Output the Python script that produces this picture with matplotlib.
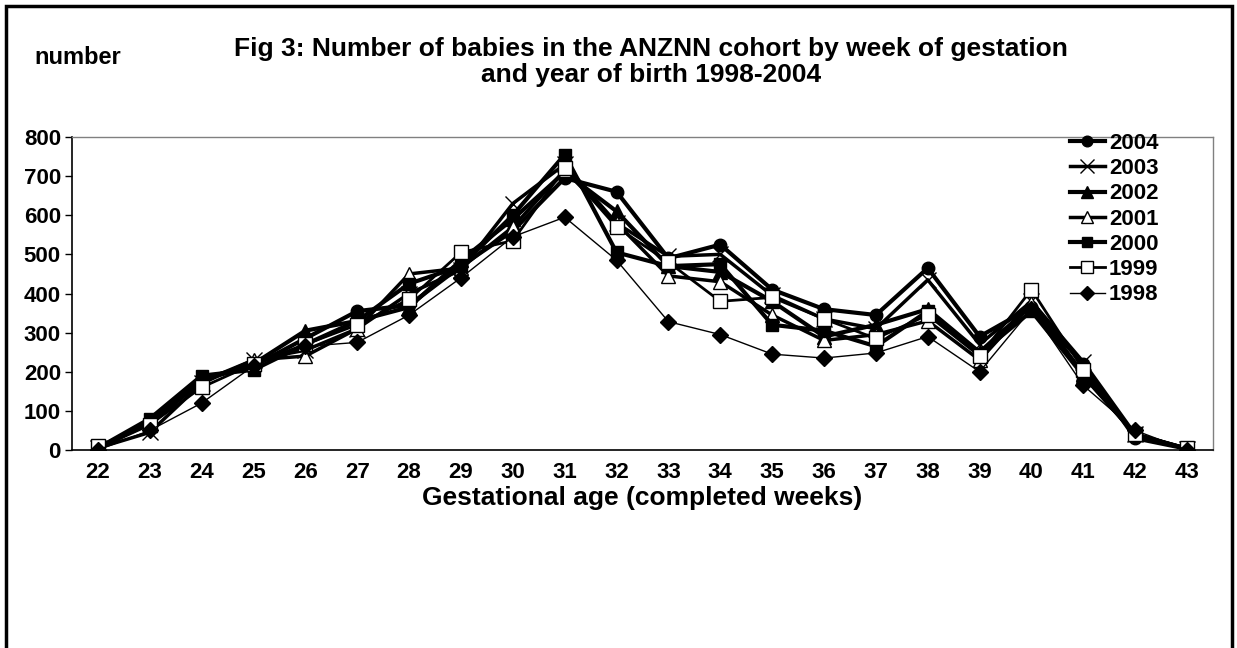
import numpy as np
import matplotlib
matplotlib.use('Agg')
import matplotlib.pyplot as plt

plt.rcParams['font.family'] = ['Liberation Sans', 'DejaVu Sans']
plt.rcParams['font.weight'] = 'bold'

# weeks of gestation
weeks = ['22', '23', '24', '25', '26', '27', '28', '29', '30', '31', '32',
         '33', '34', '35', '36', '37', '38', '39', '40', '41', '42', '43']

# number of babies per year of birth
y2004 = [5, 70, 180, 215, 285, 355, 370, 470, 560, 695, 660, 490, 525, 410, 360, 345, 465, 290, 365, 220, 30, 3]
y2003 = [5, 45, 170, 230, 255, 310, 400, 460, 630, 730, 580, 495, 500, 395, 335, 310, 435, 270, 380, 225, 40, 3]
y2002 = [5, 70, 180, 220, 305, 330, 365, 485, 590, 710, 610, 470, 455, 380, 290, 320, 360, 250, 370, 195, 40, 3]
y2001 = [5, 65, 175, 230, 240, 310, 450, 465, 570, 715, 580, 445, 430, 345, 280, 295, 330, 230, 375, 190, 40, 3]
y2000 = [5, 80, 190, 205, 270, 330, 425, 470, 600, 755, 505, 470, 475, 320, 305, 265, 355, 245, 355, 190, 40, 3]
y1999 = [10, 65, 160, 220, 270, 320, 385, 505, 535, 720, 570, 480, 380, 390, 335, 285, 345, 240, 410, 205, 40, 5]
y1998 = [0, 50, 120, 215, 265, 275, 345, 440, 545, 595, 485, 328, 295, 245, 235, 248, 290, 200, 360, 165, 50, 0]

series = [
    ('2004', y2004, dict(marker='o', ms=9, mfc='black', lw=3.0)),
    ('2003', y2003, dict(marker='x', ms=12, mew=1.0, lw=2.5)),
    ('2002', y2002, dict(marker='^', ms=10, mfc='black', lw=3.0)),
    ('2001', y2001, dict(marker='^', ms=10, mfc='white', mew=1.0, lw=2.5)),
    ('2000', y2000, dict(marker='s', ms=8, mfc='black', lw=3.0)),
    ('1999', y1999, dict(marker='s', ms=10, mfc='white', mew=1.0, lw=2.0)),
    ('1998', y1998, dict(marker='D', ms=8, mfc='black', lw=1.0)),
]

fig = plt.figure(figsize=(12.37, 6.48), dpi=100)
ax = fig.add_axes([72/1237, 1-450/648, (1213-72)/1237, (450-137)/648])

x = np.arange(len(weeks))
handles = []
for name, vals, st in series:
    h, = ax.plot(x, vals, color='black', mec='black', label=name, **st)
    handles.append(h)

ax.set_xlim(-0.5, len(weeks)-0.5)
ax.set_ylim(0, 800)
ax.set_yticks(np.arange(0, 801, 100))
ax.set_xticks(x)
ax.set_xticklabels(weeks)
ax.tick_params(axis='y', length=5, width=1, labelsize=16, pad=3)
ax.tick_params(axis='x', length=0, labelsize=16, pad=9)
for lab in ax.get_xticklabels() + ax.get_yticklabels():
    lab.set_fontweight('bold')

ax.spines['left'].set_linewidth(1.2)
ax.spines['bottom'].set_linewidth(1.2)
ax.spines['top'].set_color('#808080')
ax.spines['right'].set_color('#808080')
ax.spines['top'].set_linewidth(1.0)
ax.spines['right'].set_linewidth(1.0)

ax.set_xlabel('Gestational age (completed weeks)', fontsize=19, fontweight='bold', labelpad=2)

leg = ax.legend(handles=handles, loc='upper left', bbox_to_anchor=((1068-72)/1141, 1.02),
                frameon=False, fontsize=16, handlelength=1.55, labelspacing=0.19,
                handletextpad=0.2, borderaxespad=0.0, borderpad=0.1)
for h in leg.legend_handles:
    h.set_markersize(h.get_markersize()*0.85)
for t in leg.get_texts():
    t.set_fontweight('bold')

fig.text(0.526, 1-62/648, 'Fig 3: Number of babies in the ANZNN cohort by week of gestation\nand year of birth 1998-2004',
         ha='center', va='center', fontsize=19, fontweight='bold', linespacing=1.15)
fig.text(34/1237, 1-58/648, 'number', ha='left', va='center', fontsize=17, fontweight='bold')

# outer border of the chart
border = plt.Rectangle((6/1237, -0.05), (1232-6)/1237, 1.05-6/648, transform=fig.transFigure,
                       fill=False, edgecolor='black', linewidth=2.5)
fig.patches.append(border)

fig.savefig('out.png', dpi=100)
